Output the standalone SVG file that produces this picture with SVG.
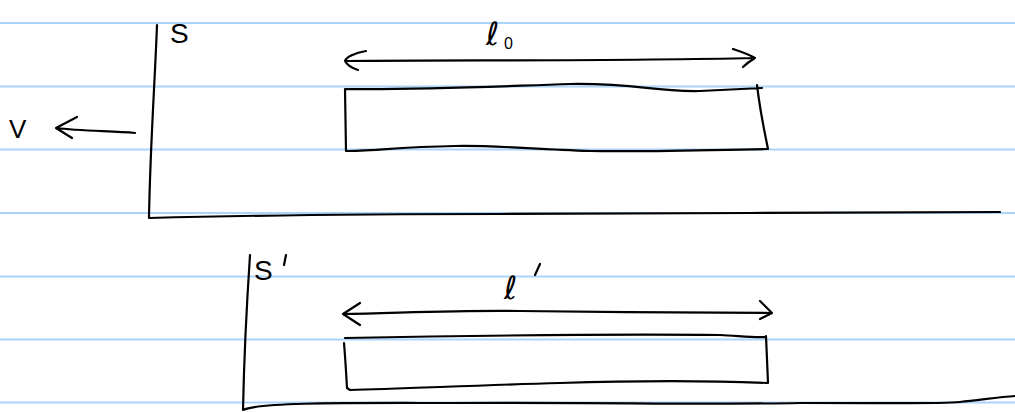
<svg xmlns="http://www.w3.org/2000/svg" width="1015" height="412" viewBox="0 0 1015 412">
<style>
.rule{stroke:#a9d4fb;stroke-width:2;fill:none}
.ink{stroke:#000;stroke-width:2.2;fill:none;stroke-linecap:round;stroke-linejoin:round}
.lbl{font-family:"Liberation Sans","DejaVu Sans",sans-serif;fill:#000}
.ell{font-family:"DejaVu Sans",sans-serif;fill:#000;font-size:32px}
</style>
<rect width="1015" height="412" fill="#fff"/>
<g id="ruling">
<line class="rule" x1="0" y1="23" x2="1015" y2="23"/>
<line class="rule" x1="0" y1="86.5" x2="1015" y2="86.5"/>
<line class="rule" x1="0" y1="149.5" x2="1015" y2="149.5"/>
<line class="rule" x1="0" y1="213" x2="1015" y2="213"/>
<line class="rule" x1="0" y1="276.5" x2="1015" y2="276.5"/>
<line class="rule" x1="0" y1="339.5" x2="1015" y2="339.5"/>
<line class="rule" x1="0" y1="402.5" x2="1015" y2="402.5"/>
</g>
<g id="frame-S">
<path class="ink" d="M157,25 C155,80 150,150 149,218 C300,214 400,214 500,214 C650,212 850,214 1000,212"/>
<text class="lbl" x="170" y="43" font-size="28">S</text>
</g>
<g id="velocity">
<text class="lbl" x="9" y="138" font-size="26">V</text>
</g>
<g id="rod-S">
<path class="ink" d="M345,89 C420,90 480,87 570,84 C640,83 650,92 700,91 L762,88 M757,85 C760,110 764,130 768,149 C700,150 640,152 590,151 C530,149 490,145 455,146 C400,147 370,151 346,151 L345,89"/>
<text class="ell" x="486" y="45">ℓ</text>
<text class="lbl" x="504" y="49" font-size="16">0</text>
</g>
<g id="frame-S-prime">
<path class="ink" d="M250,255 C247,300 244,360 243,410 C260,402 350,403 450,403 C600,402 700,405 800,403 C900,403 940,404 960,402 C980,400 1000,397 1015,396"/>
<text class="lbl" x="254" y="280" font-size="28">S</text>
<path class="ink" d="M286,255 L284,265"/>
</g>
<g id="rod-S-prime">
<path class="ink" d="M345,338 C450,336 600,334 720,335 C740,336 755,338 766,337 M766,336 L768,383 C700,380 620,381 560,383 C480,385 400,389 350,390 L347,388 C346,370 345,355 344,343"/>
<text class="ell" x="504" y="299">ℓ</text>
<path class="ink" d="M540,264 L535,275"/>
</g>
<g id="connectors">
<path class="ink" d="M345,61 C480,60 620,61 755,58 M366,51 C355,53 346,57 345,61 C347,65 352,68 358,70 M733,49 C742,52 750,55 755,58 C750,61 746,64 743,67"/>
<path class="ink" d="M343,314 C400,313 460,310 520,311 C600,312 700,313 772,313 M360,303 L343,314 L360,325 M760,301 L772,313 L760,319"/>
<path class="ink" d="M135,133 C110,131 80,131 56,128 M77,117 L56,128 L72,138"/>
</g>
</svg>
